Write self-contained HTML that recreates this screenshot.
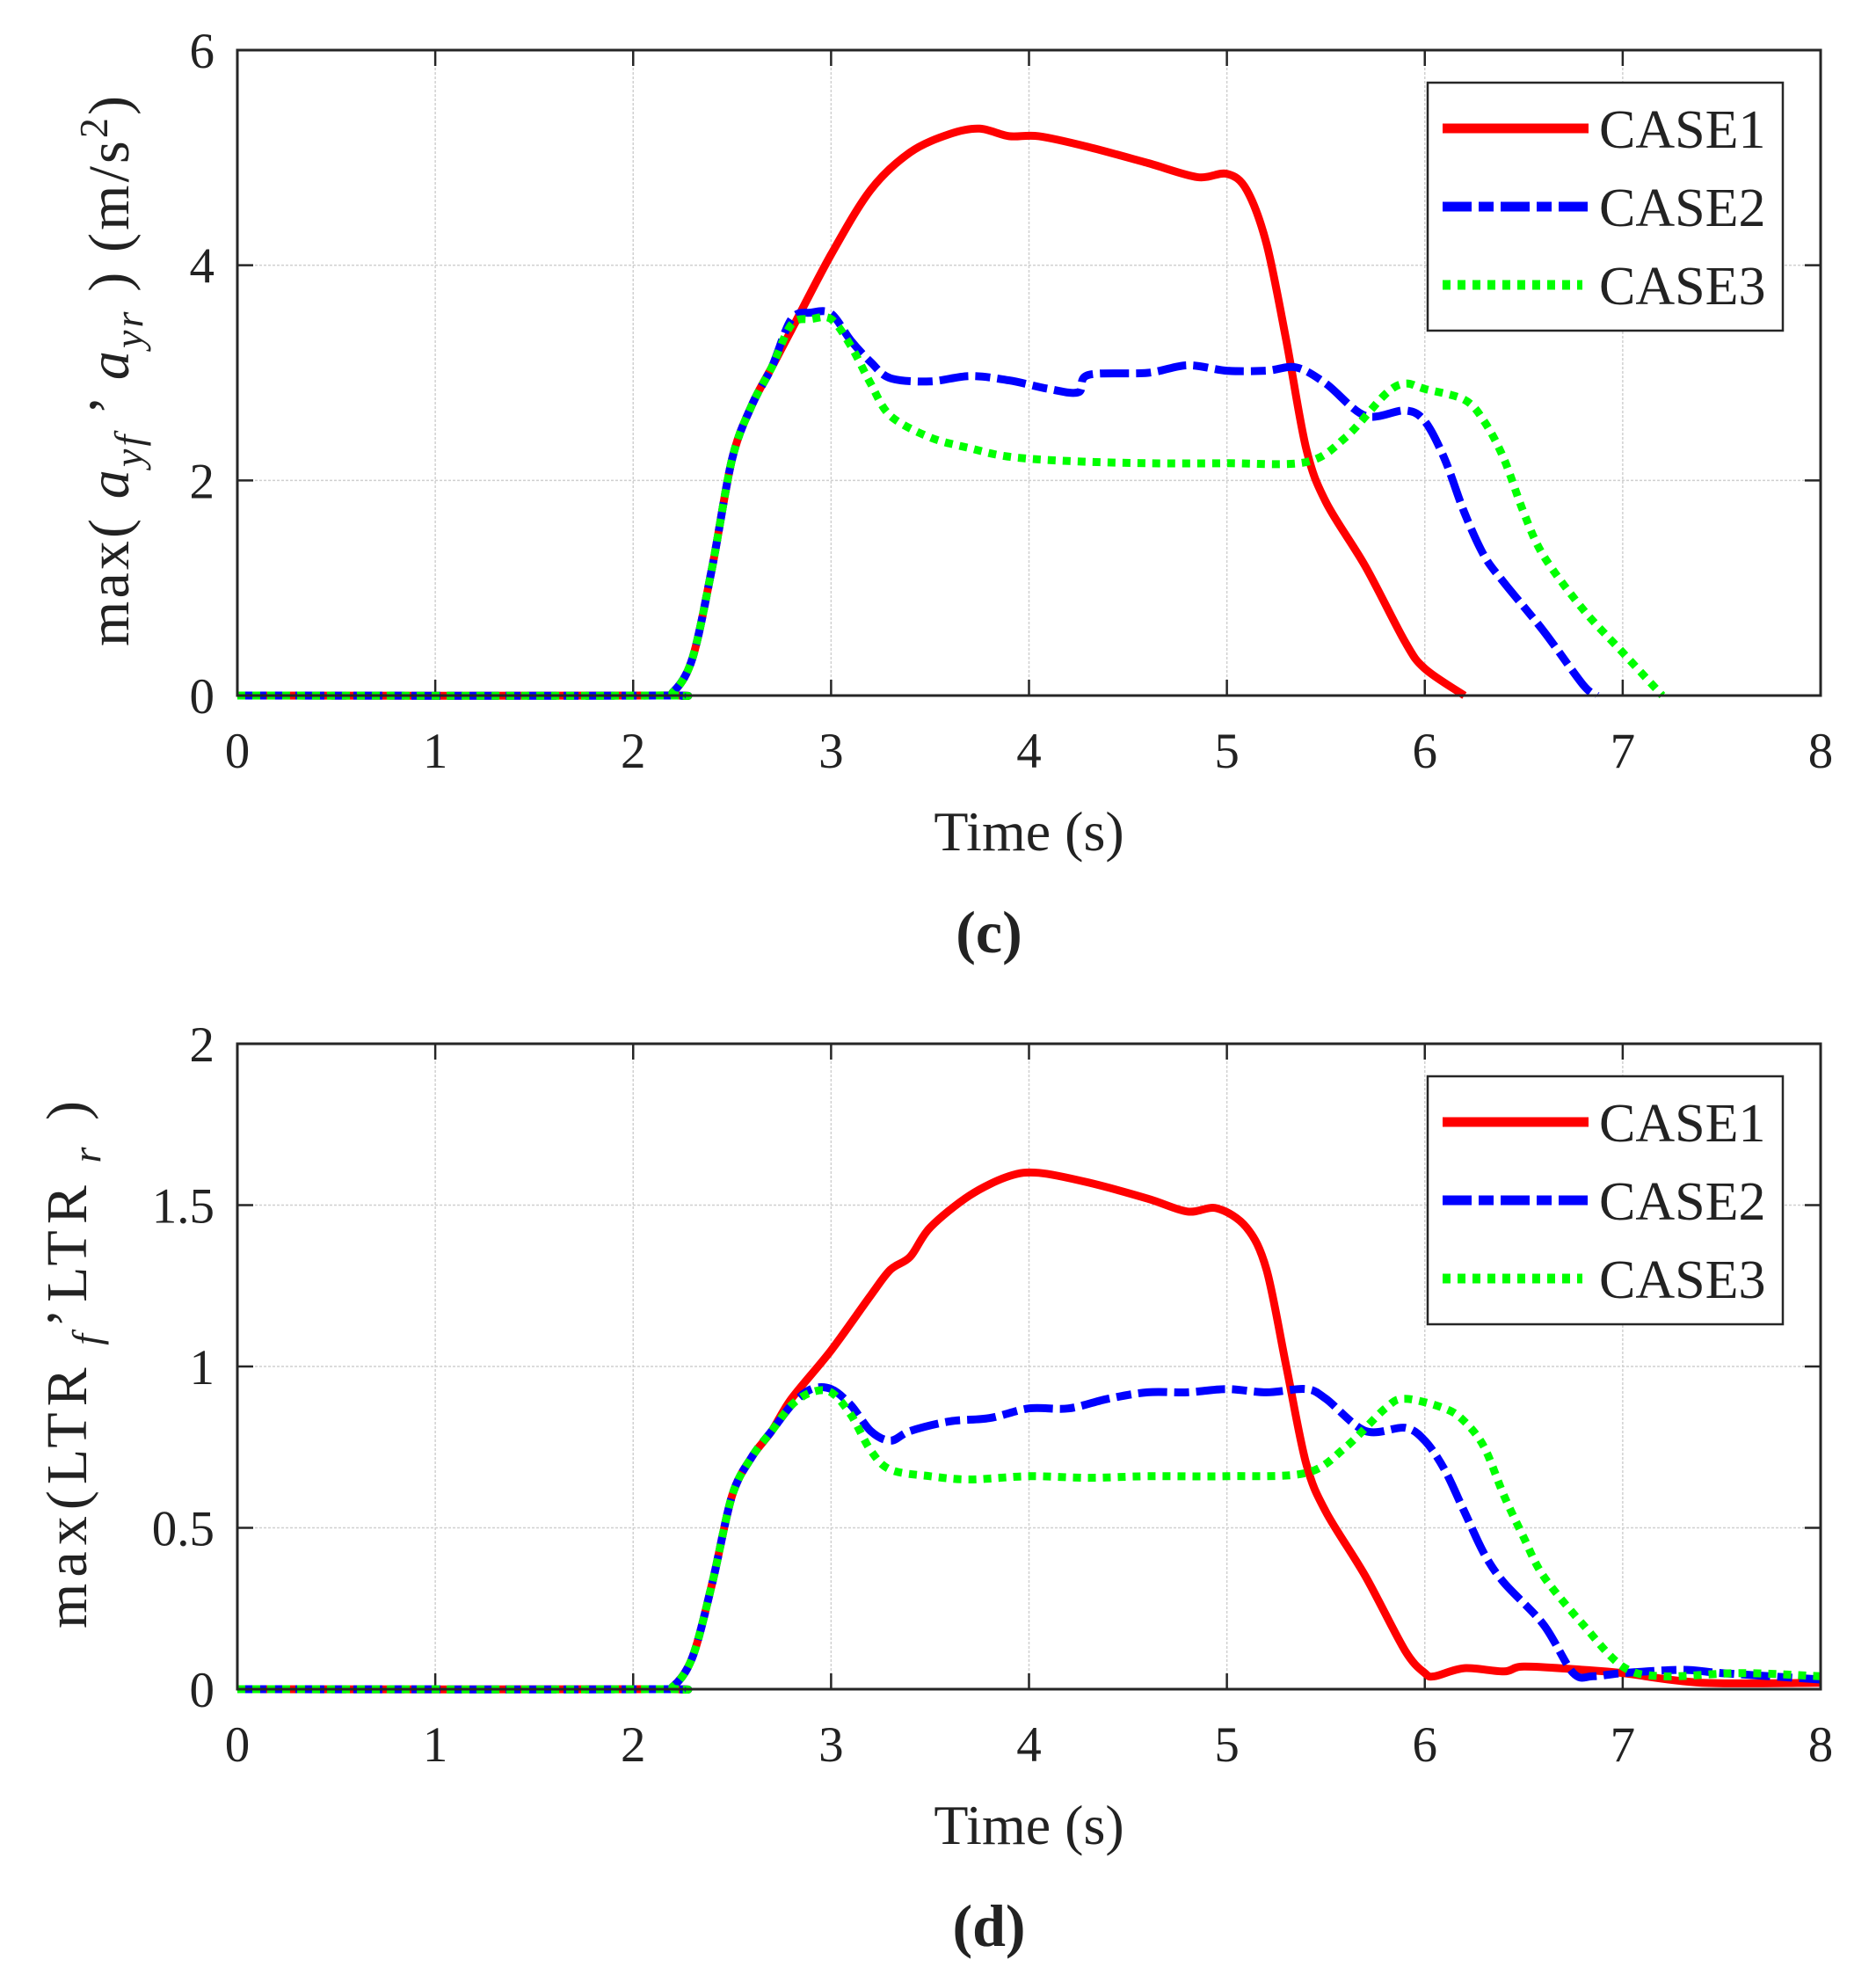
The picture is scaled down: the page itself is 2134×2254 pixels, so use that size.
<!DOCTYPE html>
<html><head><meta charset="utf-8"><style>
html,body{margin:0;padding:0;background:#fff}
svg{display:block}
text{font-family:"Liberation Serif",serif;fill:#222}
</style></head><body>
<svg id="fig" width="2134" height="2254" viewBox="0 0 2134 2254" xmlns="http://www.w3.org/2000/svg"></svg>
<script>
const xTicks=[0,1,2,3,4,5,6,7,8];
const yTicksC=[0,2,4,6];
const yTicksD=[0,0.5,1,1.5,2];
const yTickLabelsD=["0","0.5","1","1.5","2"];
const legendLabels=["CASE1","CASE2","CASE3"];
const c1T=[0,2.1,2.2,2.3,2.4,2.5,2.6,2.7,2.8,3.0,3.2,3.4,3.6,3.75,3.9,4.05,4.3,4.6,4.85,5.0,5.1,5.2,5.3,5.4,5.5,5.7,5.9,6.0,6.2];
const c1V=[0,0,0.03,0.35,1.2,2.2,2.7,3.05,3.4,4.1,4.7,5.05,5.22,5.27,5.2,5.2,5.1,4.95,4.82,4.85,4.7,4.2,3.3,2.3,1.8,1.2,0.5,0.25,0];
const c2T=[0,2.1,2.2,2.3,2.4,2.5,2.6,2.7,2.8,2.9,3.0,3.1,3.2,3.3,3.5,3.7,3.9,4.1,4.25,4.3,4.6,4.8,5.0,5.2,5.35,5.5,5.7,5.9,6.0,6.1,6.2,6.3,6.4,6.6,6.8,6.87];
const c2V=[0,0,0.03,0.35,1.2,2.2,2.7,3.05,3.5,3.56,3.55,3.3,3.1,2.95,2.92,2.97,2.93,2.85,2.82,2.98,3.0,3.07,3.02,3.02,3.05,2.9,2.6,2.65,2.55,2.2,1.7,1.3,1.05,0.6,0.1,0];
const c3T=[0,2.1,2.2,2.3,2.4,2.5,2.6,2.7,2.8,2.9,3.0,3.1,3.2,3.3,3.5,3.7,3.9,4.2,4.6,5.0,5.4,5.6,5.8,5.9,6.0,6.2,6.3,6.4,6.5,6.6,6.8,7.0,7.2];
const c3V=[0,0,0.03,0.35,1.2,2.2,2.7,3.05,3.45,3.5,3.5,3.25,2.9,2.6,2.4,2.3,2.22,2.18,2.16,2.16,2.17,2.4,2.8,2.9,2.85,2.75,2.55,2.2,1.7,1.3,0.8,0.4,0];
const d1T=[0,2.1,2.2,2.3,2.4,2.5,2.6,2.7,2.8,3.0,3.2,3.3,3.4,3.5,3.7,3.9,4.05,4.3,4.6,4.8,4.95,5.1,5.2,5.3,5.4,5.5,5.7,5.9,6.0,6.05,6.2,6.4,6.5,6.8,7.0,7.4,8];
const d1V=[0,0,0.008,0.1,0.33,0.6,0.72,0.8,0.9,1.05,1.22,1.3,1.34,1.43,1.53,1.59,1.6,1.57,1.52,1.48,1.49,1.43,1.3,1.0,0.7,0.55,0.35,0.12,0.05,0.04,0.065,0.055,0.07,0.06,0.05,0.02,0.02];
const d2T=[0,2.1,2.2,2.3,2.4,2.5,2.6,2.7,2.8,2.9,3.0,3.1,3.2,3.3,3.4,3.6,3.8,4.0,4.2,4.4,4.6,4.8,5.0,5.2,5.4,5.5,5.7,5.9,6.0,6.1,6.2,6.3,6.4,6.6,6.75,6.85,7.0,7.3,7.5,8];
const d2V=[0,0,0.008,0.1,0.33,0.6,0.72,0.8,0.88,0.93,0.93,0.88,0.8,0.77,0.8,0.83,0.84,0.87,0.87,0.9,0.92,0.92,0.93,0.92,0.93,0.9,0.8,0.81,0.77,0.68,0.55,0.42,0.33,0.2,0.05,0.04,0.05,0.06,0.05,0.03];
const d3T=[0,2.1,2.2,2.3,2.4,2.5,2.6,2.7,2.8,2.9,3.0,3.1,3.2,3.3,3.5,3.7,4.0,4.3,4.6,5.0,5.4,5.6,5.8,5.9,6.1,6.2,6.3,6.4,6.5,6.6,6.8,7.0,7.2,7.6,8];
const d3V=[0,0,0.008,0.1,0.33,0.6,0.72,0.8,0.88,0.92,0.92,0.85,0.74,0.68,0.66,0.65,0.66,0.655,0.66,0.66,0.67,0.75,0.87,0.9,0.87,0.83,0.75,0.6,0.47,0.35,0.2,0.07,0.04,0.05,0.04];

const NS="http://www.w3.org/2000/svg";
const svg=document.getElementById('fig');
function mk(tag,attrs,parent){const e=document.createElementNS(NS,tag);for(const k in attrs)e.setAttribute(k,attrs[k]);(parent||svg).appendChild(e);return e;}
const L=270,R=2071,H=734;
const styles=[{c:'#ff0000',d:'none'},{c:'#0000ff',d:'33 8 17 8'},{c:'#00ff00',d:'9 8'}];
function smooth(P){
  let d='M'+P[0][0].toFixed(1)+','+P[0][1].toFixed(1);
  for(let i=0;i<P.length-1;i++){
    const p0=P[Math.max(0,i-1)],p1=P[i],p2=P[i+1],p3=P[Math.min(P.length-1,i+2)];
    const t=0.16;
    const c1x=p1[0]+(p2[0]-p0[0])*t,c1y=p1[1]+(p2[1]-p0[1])*t;
    const c2x=p2[0]-(p3[0]-p1[0])*t,c2y=p2[1]-(p3[1]-p1[1])*t;
    d+='C'+c1x.toFixed(1)+','+c1y.toFixed(1)+' '+c2x.toFixed(1)+','+c2y.toFixed(1)+' '+p2[0].toFixed(1)+','+p2[1].toFixed(1);
  }
  return d;
}
function panel(top,ymax,yTicks,yLabs,series,name,letter,ylabelFn,ylx,ylen){
  const g=mk('g',{});
  
  
  const B=top+H;
  const sx=v=>L+(R-L)*v/8;
  const sy=v=>B-H*v/ymax;
  xTicks.forEach(t=>{
    const x=sx(t);
    if(t>0&&t<8){const gl=mk('line',{x1:x,y1:top,x2:x,y2:B,stroke:'#d0d0d0','stroke-width':1.5,'stroke-dasharray':'3 2'},g);
      }
    mk('line',{x1:x,y1:B,x2:x,y2:B-18,stroke:'#262626','stroke-width':2.5},g);
    mk('line',{x1:x,y1:top,x2:x,y2:top+18,stroke:'#262626','stroke-width':2.5},g);
    const tx=mk('text',{x:x,y:B+82,'font-size':57,'text-anchor':'middle'},g);tx.textContent=t;
    
  });
  yTicks.forEach((t,i)=>{
    const y=sy(t);
    if(t>0&&t<ymax){const gl=mk('line',{x1:L,y1:y,x2:R,y2:y,stroke:'#d0d0d0','stroke-width':1.5,'stroke-dasharray':'3 2'},g);
      }
    mk('line',{x1:L,y1:y,x2:L+18,y2:y,stroke:'#262626','stroke-width':2.5},g);
    mk('line',{x1:R,y1:y,x2:R-18,y2:y,stroke:'#262626','stroke-width':2.5},g);
    const tx=mk('text',{x:L-26,y:y+20,'font-size':57,'text-anchor':'end'},g);tx.textContent=yLabs[i];
    
  });
  series.forEach((s,i)=>{
    const [T,V]=s;
    const P=T.map((t,j)=>[sx(t),sy(V[j])]);
    const p=mk('path',{d:smooth(P),fill:'none',stroke:styles[i].c,'stroke-width':9,'stroke-linejoin':'round','stroke-dasharray':styles[i].d},g);
    
    
  });
  const box=mk('rect',{x:L,y:top,width:R-L,height:H,fill:'none',stroke:'#262626','stroke-width':3},g);
  
  const lg=mk('g',{},g);
  
  mk('rect',{x:1624,y:top+37,width:404,height:282,fill:'#fff',stroke:'#262626','stroke-width':2.5},lg);
  legendLabels.forEach((lab,i)=>{
    const y=top+89+i*89;
    const e=mk('g',{},lg);
    
    mk('line',{x1:1641,y1:y,x2:(i==2?1800:1807),y2:y,stroke:styles[i].c,'stroke-width':11,'stroke-dasharray':styles[i].d},e);
    const tx=mk('text',{x:1819,y:y+22,'font-size':62},e);tx.textContent=lab;
  });
  const xl=mk('text',{x:(L+R)/2+0,y:B+176,'font-size':64,'text-anchor':'middle'},g);xl.textContent='Time (s)';
  
  const cl=mk('text',{x:1125,y:B+292,'font-size':68,'text-anchor':'middle','font-weight':'bold'},g);cl.textContent=letter;
  
  const yl=mk('text',{transform:`translate(${ylx},${top+H/2-2}) rotate(-90)`,'font-size':66,'text-anchor':'middle',textLength:ylen,lengthAdjust:'spacing'},g);
  yl.innerHTML=ylabelFn;
  
}
panel(57,6,yTicksC,yTicksC.map(String),[[c1T,c1V],[c2T,c2V],[c3T,c3V]],'panel-c','(c)',
 'max( <tspan font-style="italic">a</tspan><tspan font-style="italic" font-size="46" dy="16">yf</tspan><tspan dy="-16"> \u2019 </tspan><tspan font-style="italic">a</tspan><tspan font-style="italic" font-size="46" dy="16">yr</tspan><tspan dy="-16"> ) (m/s</tspan><tspan font-size="46" dy="-24">2</tspan><tspan dy="24">)</tspan>',146,626);
panel(1187,2,yTicksD,yTickLabelsD,[[d1T,d1V],[d2T,d2V],[d3T,d3V]],'panel-d','(d)',
 'max(LTR<tspan font-style="italic" font-size="46" dy="16">  f</tspan><tspan dy="-16">\u2019LTR</tspan><tspan font-style="italic" font-size="46" dy="16">  r</tspan><tspan dy="-16">  )</tspan>',98,600);
</script>
</body></html>
